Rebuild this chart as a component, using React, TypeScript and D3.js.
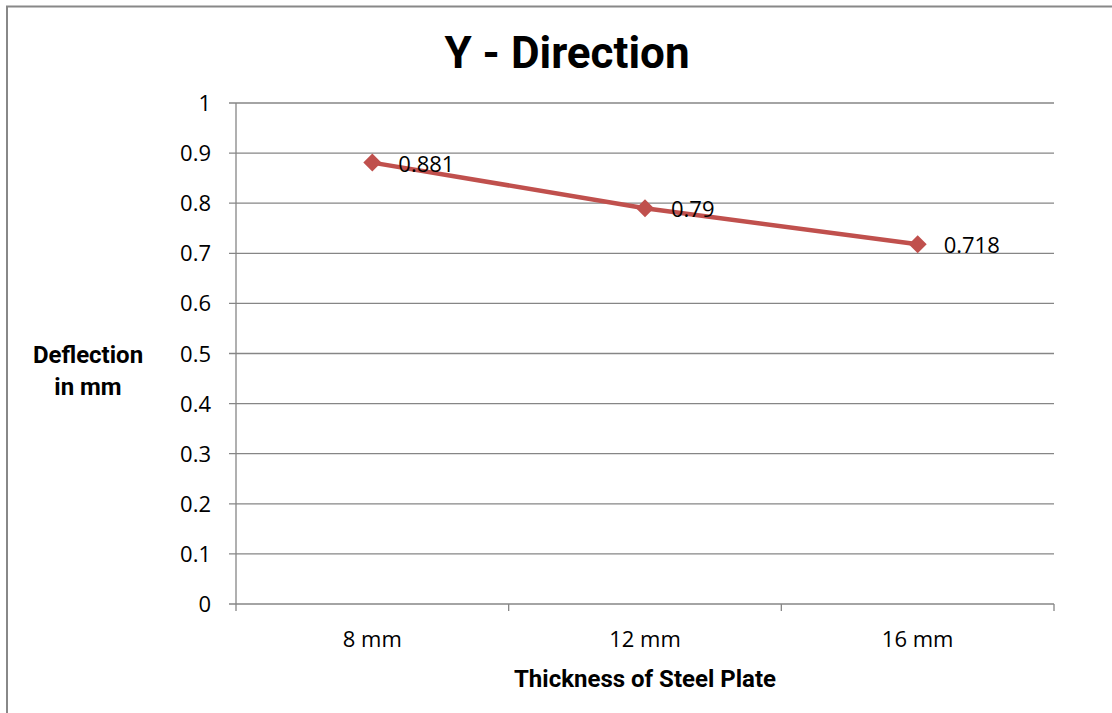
import React from 'react';
import * as d3 from 'd3';

const categories = ['8 mm', '12 mm', '16 mm'];
const deflection = [0.881, 0.79, 0.718];
const yTicks = [0, 0.1, 0.2, 0.3, 0.4, 0.5, 0.6, 0.7, 0.8, 0.9, 1];

const W = 1112;
const H = 713;
const FONT = "'Open Sans', 'DejaVu Sans', sans-serif";
const BOLD = "'Roboto', sans-serif";

const App: React.FC = () => {
  const left = 236, right = 1054, top = 103, bottom = 604;

  const x = d3.scaleBand<string>().domain(categories).range([left, right]);
  const y = d3.scaleLinear().domain([0, 1]).range([bottom, top]);

  const pts = categories.map((c, i) => ({ cx: (x(c) || 0) + x.bandwidth() / 2, cy: y(deflection[i]), v: deflection[i] }));
  const line = d3.line<{ cx: number; cy: number }>().x(d => d.cx).y(d => d.cy);

  const tickXs = [...categories.map(c => x(c) || 0), right];

  return (
    <svg width={W} height={H} style={{ position: 'absolute', left: 0, top: 0, background: '#fff' }}>
      {/* outer chart border */}
      <rect x={7} y={6.5} width={W + 10} height={H + 10} fill="none" stroke="#888" strokeWidth={2} />

      <text x={567} y={68} textAnchor="middle" fontFamily={BOLD} fontWeight="bold" fontSize={44} fill="#000">Y - Direction</text>

      {/* gridlines + y ticks */}
      {yTicks.map(t => (
        <g key={t}>
          <line x1={left - 7} x2={right} y1={y(t)} y2={y(t)} stroke="#868686" strokeWidth={1.3} />
          <text x={211} y={y(t) + 8} textAnchor="end" fontFamily={FONT} fontSize={22} fill="#000">{t}</text>
        </g>
      ))}
      <line x1={left} x2={left} y1={top} y2={bottom} stroke="#868686" strokeWidth={1.3} />

      {/* x axis ticks */}
      {tickXs.map((tx, i) => (
        <line key={i} x1={tx} x2={tx} y1={bottom} y2={bottom + 7} stroke="#868686" strokeWidth={1.3} />
      ))}
      {categories.map(c => (
        <text key={c} x={(x(c) || 0) + x.bandwidth() / 2} y={647} textAnchor="middle" fontFamily={FONT} fontSize={22} fill="#000">{c}</text>
      ))}

      {/* series */}
      <path d={line(pts) || ''} fill="none" stroke="#C0504D" strokeWidth={4.5} strokeLinejoin="round" />
      {pts.map((p, i) => (
        <g key={i}>
          <path d={`M${p.cx},${p.cy - 9} L${p.cx + 9},${p.cy} L${p.cx},${p.cy + 9} L${p.cx - 9},${p.cy} Z`} fill="#C0504D" />
          <text x={p.cx + 26} y={p.cy + 9} fontFamily={FONT} fontSize={22} fill="#000">{p.v}</text>
        </g>
      ))}

      {/* axis titles */}
      <text x={88} y={363} textAnchor="middle" fontFamily={BOLD} fontWeight="bold" fontSize={24} fill="#000">Deflection</text>
      <text x={88} y={395} textAnchor="middle" fontFamily={BOLD} fontWeight="bold" fontSize={24} fill="#000">in mm</text>
      <text x={645} y={687} textAnchor="middle" fontFamily={BOLD} fontWeight="bold" fontSize={24} fill="#000">Thickness of Steel Plate</text>
    </svg>
  );
};

export default App;
